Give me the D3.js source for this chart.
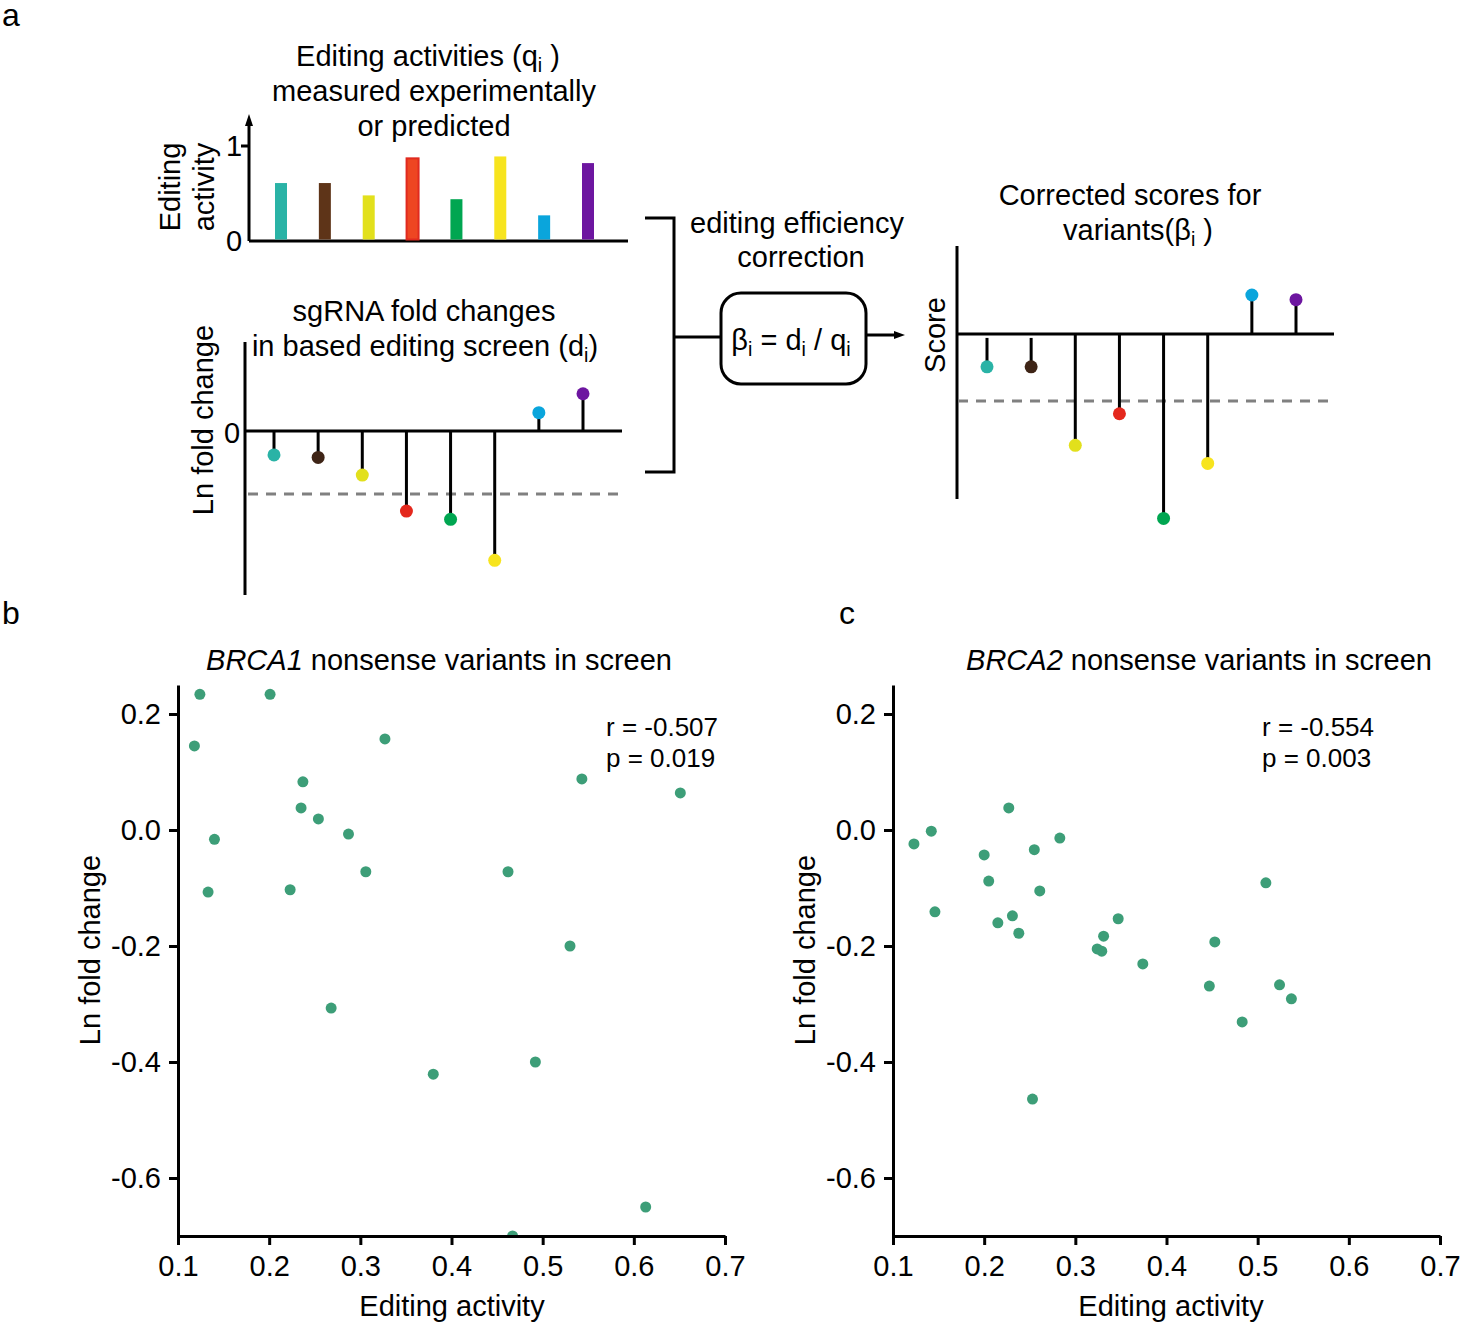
<!DOCTYPE html>
<html><head><meta charset="utf-8">
<script src="https://cdn.jsdelivr.net/npm/d3@7"></script>
<style>
body{margin:0;background:#fff}
text{font-family:"Liberation Sans",Arial,Helvetica,sans-serif;fill:#000}
</style>
</head><body>
<svg id="chart" width="1460" height="1322"></svg>
<script>
// ---------- Panel a data (schematic, arbitrary units) ----------
const guides = ["g1","g2","g3","g4","g5","g6","g7","g8"];
const guideColors = ["#2ab3a6","#3e2416","#e2e01c","#e4281d","#00a651","#f7e41e","#0aa5dc","#6d16a0"];
const barColors   = ["#2ab3a6","#5e3418","#e2e01c","#ee4622","#00a651","#f7e41e","#0aa5dc","#6d16a0"];
const editingActivity = [0.61, 0.61, 0.48, 0.87, 0.44, 0.89, 0.27, 0.82];   // q_i
const foldChange      = [-0.38, -0.42, -0.70, -1.27, -1.40, -2.05, 0.29, 0.59]; // d_i
const correctedScore  = [-0.49, -0.49, -1.66, -1.19, -2.75, -1.93, 0.58, 0.51]; // beta_i
const thresholdValue = -1;

// ---------- Panel b: BRCA1 ----------
const brca1Activity = [0.124,0.201,0.118,0.327,0.237,0.235,0.254,0.140,0.287,0.133,0.223,0.306,0.543,0.651,0.462,0.530,0.268,0.380,0.492,0.613,0.467];
const brca1LFC      = [0.234,0.234,0.145,0.157,0.083,0.038,0.019,-0.016,-0.007,-0.107,-0.103,-0.072,0.088,0.064,-0.072,-0.200,-0.307,-0.421,-0.400,-0.650,-0.700];
// ---------- Panel c: BRCA2 ----------
const brca2Activity = [0.123,0.142,0.227,0.283,0.200,0.255,0.205,0.261,0.146,0.231,0.215,0.238,0.347,0.331,0.324,0.329,0.374,0.509,0.453,0.447,0.524,0.537,0.483,0.253];
const brca2LFC      = [-0.024,-0.002,0.038,-0.014,-0.043,-0.034,-0.088,-0.105,-0.141,-0.148,-0.160,-0.178,-0.153,-0.183,-0.205,-0.209,-0.231,-0.091,-0.193,-0.269,-0.267,-0.291,-0.331,-0.464];

const xTicks = [0.1,0.2,0.3,0.4,0.5,0.6,0.7];
const yTicks = [0.2,0.0,-0.2,-0.4,-0.6];

const svg = d3.select("#chart");
const FS = 29;

function richText(g, x, y, parts, opts={}) {
  const size = opts.size || FS;
  const t = g.append("text").attr("x", x).attr("y", y)
    .attr("text-anchor", opts.anchor || "middle")
    .attr("font-size", size);
  let shifted = false;
  parts.forEach(p => {
    if (typeof p === "string") {
      const ts = t.append("tspan").text(p);
      if (shifted) { ts.attr("dy", -6); shifted = false; }
    } else {
      t.append("tspan").attr("font-size", size*0.68).attr("dy", shifted ? 0 : 6).text(p.sub);
      shifted = true;
    }
  });
  return t;
}

// panel letters
svg.append("text").attr("x", 2).attr("y", 26).attr("font-size", 32).text("a");
svg.append("text").attr("x", 2).attr("y", 624).attr("font-size", 32).text("b");
svg.append("text").attr("x", 839).attr("y", 624).attr("font-size", 32).text("c");

// ---------- Panel a: top bar chart ----------
const gA = svg.append("g");
const barX = d3.scalePoint().domain(guides).range([281, 588]);
const qY = d3.scaleLinear().domain([0, 1]).range([241, 146]);
const axisXa = 249;
gA.append("line").attr("x1", axisXa).attr("x2", axisXa).attr("y1", qY(0)).attr("y2", 124)
  .attr("stroke", "#000").attr("stroke-width", 3);
gA.append("path").attr("d", `M${axisXa-4},126 L${axisXa},114 L${axisXa+4},126 Z`).attr("fill", "#000");
gA.append("line").attr("x1", axisXa-8).attr("x2", axisXa).attr("y1", qY(1)).attr("y2", qY(1))
  .attr("stroke", "#000").attr("stroke-width", 3);
gA.append("line").attr("x1", axisXa).attr("x2", 628).attr("y1", qY(0)).attr("y2", qY(0))
  .attr("stroke", "#000").attr("stroke-width", 3);
gA.selectAll("rect.bar").data(guides).join("rect").attr("class","bar")
  .attr("x", d => barX(d) - 6).attr("width", 12)
  .attr("y", (d,i) => qY(editingActivity[i])).attr("height", (d,i) => qY(0) - qY(editingActivity[i]) - 1.5)
  .attr("fill", (d,i) => barColors[i])
  .attr("stroke", (d,i) => i === 3 ? "#e02a1f" : "none").attr("stroke-width", 2);
gA.append("text").attr("x", 234).attr("y", 156).attr("font-size", FS).attr("text-anchor","middle").text("1");
gA.append("text").attr("x", 234).attr("y", 251).attr("font-size", FS).attr("text-anchor","middle").text("0");
richText(gA, 428, 66, ["Editing activities (q", {sub:"i"}, " )"]);
richText(gA, 434, 101, ["measured experimentally"]);
richText(gA, 434, 136, ["or predicted"]);
gA.append("text").attr("transform","translate(180,187) rotate(-90)").attr("text-anchor","middle").attr("font-size", FS).text("Editing");
gA.append("text").attr("transform","translate(214,187) rotate(-90)").attr("text-anchor","middle").attr("font-size", FS).text("activity");

// ---------- Panel a: lower-left lollipop ----------
const gD = svg.append("g");
const stemX1 = d3.scalePoint().domain(guides).range([274, 583]);
const dY = d3.scaleLinear().domain([-2.6, 1.41]).range([595, 342]);
gD.append("line").attr("x1", 245).attr("x2", 245).attr("y1", dY(1.41)).attr("y2", dY(-2.6))
  .attr("stroke","#000").attr("stroke-width",3);
gD.append("line").attr("x1", 248).attr("x2", 622).attr("y1", dY(thresholdValue)).attr("y2", dY(thresholdValue))
  .attr("stroke","#808080").attr("stroke-width",3).attr("stroke-dasharray","10,8");
gD.selectAll("line.stem").data(guides).join("line").attr("class","stem")
  .attr("x1", d => stemX1(d)).attr("x2", d => stemX1(d))
  .attr("y1", dY(0)).attr("y2", (d,i) => dY(foldChange[i]))
  .attr("stroke","#000").attr("stroke-width",3);
gD.append("line").attr("x1", 245).attr("x2", 622).attr("y1", dY(0)).attr("y2", dY(0))
  .attr("stroke","#000").attr("stroke-width",3);
gD.selectAll("circle").data(guides).join("circle")
  .attr("cx", d => stemX1(d)).attr("cy", (d,i) => dY(foldChange[i])).attr("r", 6.5)
  .attr("fill", (d,i) => guideColors[i]);
gD.append("text").attr("x", 232).attr("y", 443).attr("font-size", FS).attr("text-anchor","middle").text("0");
richText(gD, 424, 321, ["sgRNA fold changes"]);
richText(gD, 425, 356, ["in based editing screen (d", {sub:"i"}, ")"]);
gD.append("text").attr("transform","translate(213,420) rotate(-90)").attr("text-anchor","middle").attr("font-size", FS).text("Ln fold change");

// ---------- Panel a: bracket, box, arrow ----------
const gM = svg.append("g").attr("fill","none").attr("stroke","#000").attr("stroke-width",3);
gM.append("path").attr("d","M645,218 H674 V472 H645");
gM.append("path").attr("d","M674,337 H721");
gM.append("rect").attr("x",721).attr("y",293).attr("width",145).attr("height",91).attr("rx",20).attr("ry",20);
gM.append("path").attr("d","M866,335 H896");
svg.append("path").attr("d","M894,331 L905,335 L894,339 Z").attr("fill","#000");
richText(svg, 797, 233, ["editing efficiency"]);
richText(svg, 801, 267, ["correction"]);
richText(svg, 791, 350, ["\u03b2", {sub:"i"}, " = d", {sub:"i"}, " / q", {sub:"i"}]);

// ---------- Panel a: right lollipop ----------
const gR = svg.append("g");
const stemX2 = d3.scalePoint().domain(guides).range([987, 1296]);
const bY = d3.scaleLinear().domain([-2.46, 1.31]).range([499, 246]);
gR.append("line").attr("x1", 957).attr("x2", 957).attr("y1", bY(1.31)).attr("y2", bY(-2.46))
  .attr("stroke","#000").attr("stroke-width",3);
gR.append("line").attr("x1", 958).attr("x2", 1334).attr("y1", bY(thresholdValue)).attr("y2", bY(thresholdValue))
  .attr("stroke","#808080").attr("stroke-width",3).attr("stroke-dasharray","10,8");
gR.selectAll("line.stem").data(guides).join("line").attr("class","stem")
  .attr("x1", d => stemX2(d)).attr("x2", d => stemX2(d))
  .attr("y1", (d,i) => i < 2 ? bY(0) + 4 : bY(0))
  .attr("y2", (d,i) => bY(correctedScore[i]))
  .attr("stroke","#000").attr("stroke-width",3);
gR.append("line").attr("x1", 957).attr("x2", 1334).attr("y1", bY(0)).attr("y2", bY(0))
  .attr("stroke","#000").attr("stroke-width",3);
gR.selectAll("circle").data(guides).join("circle")
  .attr("cx", d => stemX2(d)).attr("cy", (d,i) => bY(correctedScore[i])).attr("r", 6.5)
  .attr("fill", (d,i) => guideColors[i]);
richText(gR, 1130, 205, ["Corrected scores for"]);
richText(gR, 1138, 240, ["variants(\u03b2", {sub:"i"}, " )"]);
gR.append("text").attr("transform","translate(945,335) rotate(-90)").attr("text-anchor","middle").attr("font-size", FS).text("Score");

// ---------- Scatter panels ----------
const fmt = d => d3.format(".1f")(d).replace("\u2212","-");
svg.append("defs").append("clipPath").attr("id","plotclip")
  .append("rect").attr("x", 0).attr("y", 600).attr("width", 1460).attr("height", 636);
function scatter(x0, x1, xs, ys, geneName, rText, pText, statsX, labelX, titleX, xLabelX) {
  const g = svg.append("g");
  const x = d3.scaleLinear().domain([0.1, 0.7]).range([x0, x1]);
  const y = d3.scaleLinear().domain([-0.7, 0.25]).range([1236, 685]);
  g.append("g").attr("clip-path","url(#plotclip)").selectAll("circle").data(xs).join("circle")
    .attr("cx", d => x(d)).attr("cy", (d,i) => y(ys[i])).attr("r", 5.5)
    .attr("fill", "#3d9e78");
  const ax = g.append("g").attr("transform", `translate(0,${y(-0.7)})`)
    .call(d3.axisBottom(x).tickValues(xTicks).tickFormat(fmt).tickSize(9).tickSizeOuter(0).tickPadding(10));
  const ay = g.append("g").attr("transform", `translate(${x(0.1)},0)`)
    .call(d3.axisLeft(y).tickValues(yTicks).tickFormat(fmt).tickSize(9).tickSizeOuter(0).tickPadding(8));
  [ax, ay].forEach(a => {
    a.selectAll("path,line").attr("stroke","#000").attr("stroke-width",3);
    a.selectAll("text").attr("font-size", 29).attr("font-family","Liberation Sans, Arial, sans-serif").attr("fill","#000");
  });
  const t = g.append("text").attr("x", titleX).attr("y", 670).attr("text-anchor","middle").attr("font-size", FS);
  t.append("tspan").attr("font-style","italic").text(geneName);
  t.append("tspan").text(" nonsense variants in screen");
  g.append("text").attr("x", statsX).attr("y", 736).attr("font-size", 26).text(rText);
  g.append("text").attr("x", statsX).attr("y", 767).attr("font-size", 26).text(pText);
  g.append("text").attr("x", xLabelX).attr("y", 1316).attr("text-anchor","middle").attr("font-size", FS).text("Editing activity");
  g.append("text").attr("transform", `translate(${labelX},950) rotate(-90)`).attr("text-anchor","middle").attr("font-size", FS).text("Ln fold change");
}
scatter(178, 725, brca1Activity, brca1LFC, "BRCA1", "r = -0.507", "p = 0.019", 606, 100, 439, 452);
scatter(893, 1440, brca2Activity, brca2LFC, "BRCA2", "r = -0.554", "p = 0.003", 1262, 815, 1199, 1171);
</script>
</body></html>
